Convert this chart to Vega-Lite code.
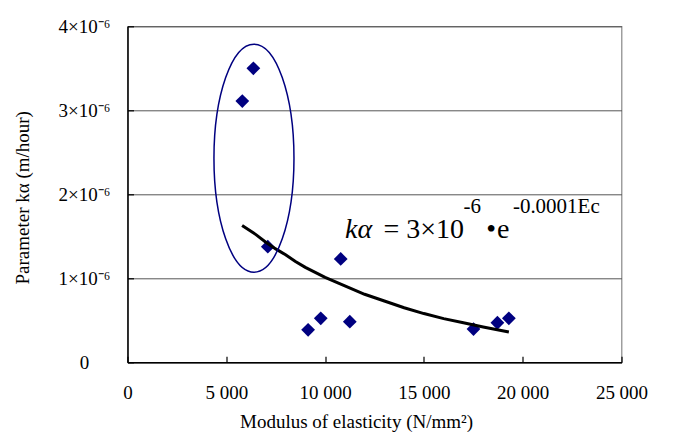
{
  "$schema": "https://vega.github.io/schema/vega-lite/v6.json",
  "width": 494,
  "height": 336,
  "autosize": {"type": "none"},
  "padding": {"left": 127.5, "top": 26.3, "right": 54, "bottom": 70},
  "background": "white",
  "config": {
    "view": {"stroke": "#888888", "strokeWidth": 1.2},
    "font": "Liberation Serif"
  },
  "datasets": {
    "points": [
      {"E": 5810, "k": 3.11e-6},
      {"E": 6370, "k": 3.50e-6},
      {"E": 7100, "k": 1.376e-6},
      {"E": 10790, "k": 1.23e-6},
      {"E": 9780, "k": 0.524e-6},
      {"E": 9140, "k": 0.386e-6},
      {"E": 11250, "k": 0.483e-6},
      {"E": 17510, "k": 0.396e-6},
      {"E": 18720, "k": 0.471e-6},
      {"E": 19300, "k": 0.524e-6}
    ],
    "trend": [
      {"E": 5800, "k": 1.63e-6},
      {"E": 6500, "k": 1.52e-6},
      {"E": 7000, "k": 1.43e-6},
      {"E": 7500, "k": 1.35e-6},
      {"E": 8000, "k": 1.28e-6},
      {"E": 8500, "k": 1.20e-6},
      {"E": 9000, "k": 1.13e-6},
      {"E": 9500, "k": 1.07e-6},
      {"E": 10000, "k": 1.01e-6},
      {"E": 11000, "k": 0.91e-6},
      {"E": 12000, "k": 0.81e-6},
      {"E": 13000, "k": 0.73e-6},
      {"E": 14000, "k": 0.65e-6},
      {"E": 15000, "k": 0.58e-6},
      {"E": 16000, "k": 0.52e-6},
      {"E": 17000, "k": 0.47e-6},
      {"E": 18000, "k": 0.42e-6},
      {"E": 19300, "k": 0.36e-6}
    ],
    "ellipse": [{"E": 6400, "k": 2.43e-6}],
    "eqItalic": [{"E": 11013, "k": 1.483e-6, "label": "kα"}],
    "eqMain": [
      {"E": 12950, "k": 1.483e-6, "label": "= 3×10"},
      {"E": 18150, "k": 1.483e-6, "label": "•"},
      {"E": 18694, "k": 1.483e-6, "label": "e"}
    ],
    "eqSup": [
      {"E": 17000, "k": 1.777e-6, "label": "-6"},
      {"E": 19504, "k": 1.777e-6, "label": "-0.0001Ec"}
    ]
  },
  "layer": [
    {
      "data": {"name": "points"},
      "mark": {"type": "point", "shape": "diamond", "filled": true, "color": "#000080", "size": 190, "opacity": 1},
      "encoding": {
        "x": {
          "field": "E", "type": "quantitative",
          "scale": {"domain": [0, 25000], "nice": false, "zero": false},
          "axis": {
            "values": [0, 5000, 10000, 15000, 20000, 25000],
            "labelExpr": "replace(format(datum.value, ','), ',', ' ')",
            "title": "Modulus of elasticity (N/mm²)",
            "grid": false,
            "domainColor": "black", "domainWidth": 1.5,
            "tickColor": "black", "tickWidth": 1.2, "tickSize": -6,
            "labelFont": "Liberation Serif", "labelFontSize": 19, "labelColor": "black",
            "labelPadding": 27, "labelFlush": false, "labelOverlap": false,
            "titleFont": "Liberation Serif", "titleFontSize": 19, "titleFontWeight": "normal", "titleColor": "black",
            "titleX": 228.5, "titleY": 59, "titleBaseline": "middle", "titleAlign": "center", "titleAnchor": null
          }
        },
        "y": {
          "field": "k", "type": "quantitative",
          "scale": {"domain": [0, 4e-6], "nice": false, "zero": true},
          "axis": {
            "values": [0, 1e-6, 2e-6, 3e-6, 4e-6],
            "labelExpr": "datum.value == 0 ? '0' : round(datum.value * 1e6) + '×10⁻⁶'",
            "title": "Parameter  kα (m/hour)",
            "grid": true, "gridColor": "#555555", "gridWidth": 1,
            "domainColor": "black", "domainWidth": 1.5,
            "tickColor": "black", "tickWidth": 1.2, "tickSize": -6,
            "labelFont": "Liberation Serif", "labelFontSize": 19, "labelColor": "black",
            "labelAlign": "center", "labelBaseline": "middle",
            "labelPadding": 49.5, "labelFlush": false, "labelOverlap": false,
            "titleFont": "Liberation Serif", "titleFontSize": 19, "titleFontWeight": "normal", "titleColor": "black",
            "titleX": -105.5, "titleY": 171, "titleBaseline": "middle", "titleAlign": "center", "titleAngle": -90, "titleAnchor": null
          }
        }
      }
    },
    {
      "data": {"name": "trend"},
      "mark": {"type": "line", "color": "black", "strokeWidth": 3},
      "encoding": {
        "x": {"field": "E", "type": "quantitative"},
        "y": {"field": "k", "type": "quantitative"}
      }
    },
    {
      "data": {"name": "ellipse"},
      "mark": {
        "type": "point",
        "shape": "M0,-1C0.1939,-1 0.351,-0.5523 0.351,0C0.351,0.5523 0.1939,1 0,1C-0.1939,1 -0.351,0.5523 -0.351,0C-0.351,-0.5523 -0.1939,-1 0,-1Z",
        "size": 51984, "filled": false, "stroke": "#000080", "strokeWidth": 1.5, "opacity": 1
      },
      "encoding": {
        "x": {"field": "E", "type": "quantitative"},
        "y": {"field": "k", "type": "quantitative"}
      }
    },
    {
      "data": {"name": "eqItalic"},
      "mark": {"type": "text", "font": "Liberation Serif", "fontSize": 28, "fontStyle": "italic", "align": "left", "baseline": "alphabetic", "color": "black"},
      "encoding": {
        "x": {"field": "E", "type": "quantitative"},
        "y": {"field": "k", "type": "quantitative"},
        "text": {"field": "label"}
      }
    },
    {
      "data": {"name": "eqMain"},
      "mark": {"type": "text", "font": "Liberation Serif", "fontSize": 28, "align": "left", "baseline": "alphabetic", "color": "black"},
      "encoding": {
        "x": {"field": "E", "type": "quantitative"},
        "y": {"field": "k", "type": "quantitative"},
        "text": {"field": "label"}
      }
    },
    {
      "data": {"name": "eqSup"},
      "mark": {"type": "text", "font": "Liberation Serif", "fontSize": 21, "align": "left", "baseline": "alphabetic", "color": "black"},
      "encoding": {
        "x": {"field": "E", "type": "quantitative"},
        "y": {"field": "k", "type": "quantitative"},
        "text": {"field": "label"}
      }
    }
  ]
}
